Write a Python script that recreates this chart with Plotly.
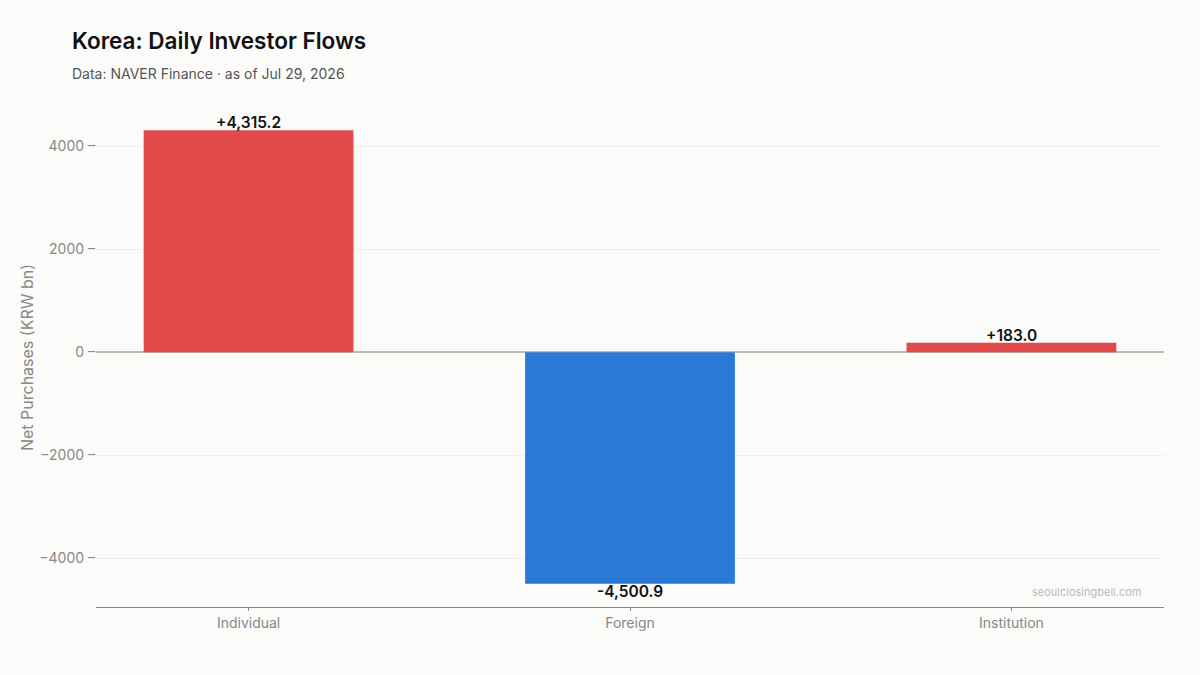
import plotly.graph_objects as go

categories = ["Individual", "Foreign", "Institution"]
values = [4315.2, -4500.9, 183.0]
labels = ["+4,315.2", "-4,500.9", "+183.0"]
colors = ["#E04A4A" if v >= 0 else "#2A79D7" for v in values]

fig = go.Figure(go.Bar(
    x=categories, y=values, width=0.55,
    marker=dict(color=colors, line=dict(width=0)),
    hoverinfo="x+y",
))

L, R, T, B = 96, 36, 108, 68
W, H = 1200, 675
ph = H - T - B
pw = W - L - R

annotations = []
for c, v, lab in zip(categories, values, labels):
    annotations.append(dict(
        x=c, y=v, xref="x", yref="y", text=lab, showarrow=False,
        yanchor="bottom" if v >= 0 else "top",
        yshift=-4 if v >= 0 else 4,
        font=dict(family="Inter", size=15.5, color="#111111", weight=600),
    ))
annotations += [
    dict(text="Korea: Daily Investor Flows", x=(70 - L) / pw, y=1 + (T - 40) / ph,
         xref="paper", yref="paper", xanchor="left", yanchor="middle", showarrow=False,
         font=dict(family="Inter", size=22.5, color="#111111", weight=600)),
    dict(text="Data: NAVER Finance · as of Jul 29, 2026", x=(70 - L) / pw, y=1 + (T - 74) / ph,
         xref="paper", yref="paper", xanchor="left", yanchor="middle", showarrow=False,
         font=dict(family="Inter", size=14, color="#555555")),
    dict(text="seoulclosingbell.com", x=(1143 - L) / pw, y=(H - B - 592) / ph,
         xref="paper", yref="paper", xanchor="right", yanchor="middle", showarrow=False,
         font=dict(family="Inter", size=11, color="#BBBBBB")),
]

vmax, vmin = max(values), min(values)
fig.update_layout(
    width=W, height=H,
    paper_bgcolor="#FBFBF9", plot_bgcolor="#FBFBF9",
    margin=dict(l=L, r=R, t=T, b=B, autoexpand=False),
    font=dict(family="Inter", color="#888888"),
    showlegend=False,
    xaxis=dict(
        range=[-0.4, 2.4], showline=True, linecolor="#888888", linewidth=1,
        ticks="outside", ticklen=3, tickcolor="#888888",
        tickfont=dict(family="Inter", size=14, color="#888888"),
        showgrid=False, zeroline=False,
    ),
    yaxis=dict(
        range=[vmin * 1.1, vmax * 1.1],
        tickvals=[-4000, -2000, 0, 2000, 4000],
        ticktext=["\u22124000 \u2013", "\u22122000 \u2013", "0 \u2013", "2000 \u2013", "4000 \u2013"],
        ticks="", ticklen=0,
        tickfont=dict(family="Inter", size=14, color="#888888"),
        showgrid=True, gridcolor="#F0F0EE", gridwidth=1,
        zeroline=True, zerolinecolor="#BDBAB2", zerolinewidth=1.5,
        showline=False, automargin=False,
        title=dict(text="Net Purchases (KRW bn)", font=dict(family="Inter", size=16, color="#888888"), standoff=1),
    ),
    annotations=annotations,
)

fig.write_html("out.html")
